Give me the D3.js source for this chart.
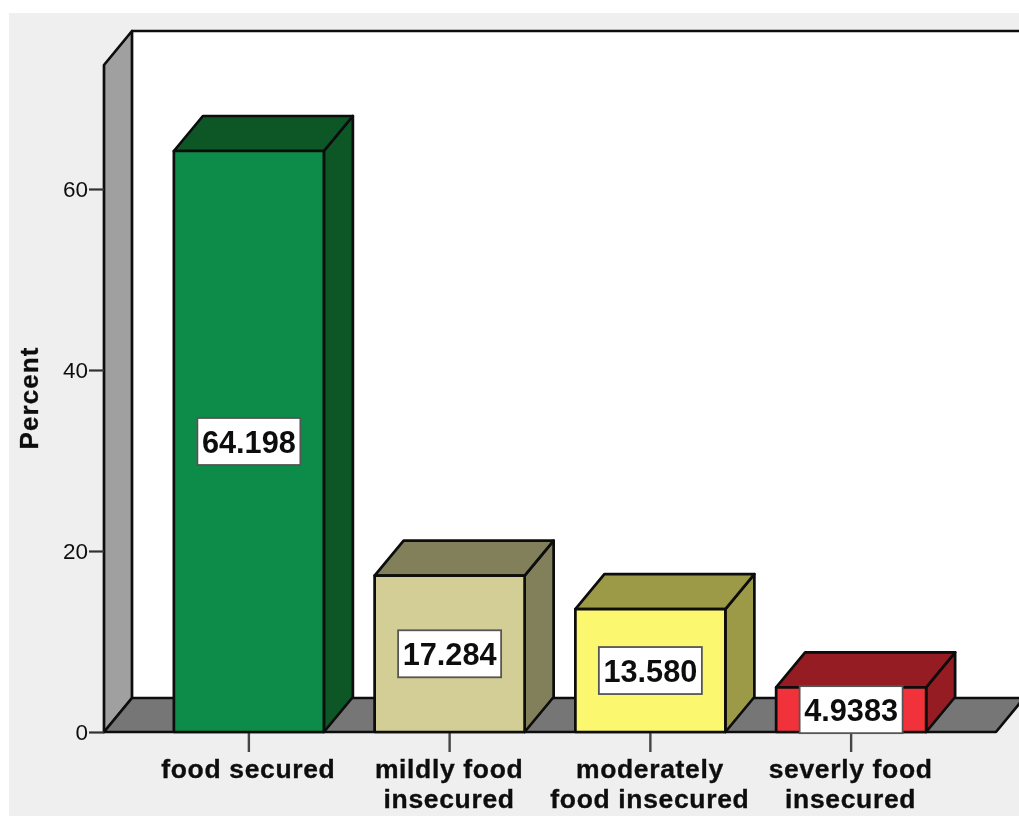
<!DOCTYPE html>
<html><head><meta charset="utf-8">
<script src="https://cdnjs.cloudflare.com/ajax/libs/d3/7.8.5/d3.min.js"></script>
<style>html,body{margin:0;padding:0;background:#fff}svg{display:block}text{font-family:"Liberation Sans",Arial,sans-serif;fill:#111}</style>
</head><body><svg id="c" width="1019" height="818"></svg>
<script>
const categories=["food secured","mildly food insecured","moderately food insecured","severly food insecured"];
const categoryLines=[["food secured"],["mildly food","insecured"],["moderately","food insecured"],["severly food","insecured"]];
const values=[64.198,17.284,13.580,4.9383];
const valueLabels=["64.198","17.284","13.580","4.9383"];
const yTicks=[0,20,40,60];
const frontColors=["#108c48","#d3ce96","#fbf76e","#f2333a"];
const sideColors=["#0a5628","#82805a","#9c9a47","#941e22"];

const svg=d3.select("#c");
const defs=svg.append("defs");
defs.append("filter").attr("id","soft").attr("x","-2%").attr("y","-2%").attr("width","104%").attr("height","104%")
  .append("feGaussianBlur").attr("stdDeviation",0.45);
const root=svg.append("g").attr("filter","url(#soft)");
const dx=28,dy=-34,barDx=29,barDy=-35,plotL=104,plotR=996,y0=732,plotT=65,stroke="#0c0c0c";
const y=d3.scaleLinear().domain([0,73.7]).range([y0,plotT]);
const x=d3.scaleBand().domain(categories).range([148.5,951.5]).paddingInner(0.2528).paddingOuter(0.1264);
const poly=(pts,fill,sw=2.7)=>root.append("polygon").attr("points",pts.map(p=>p.join(",")).join(" "))
  .attr("fill",fill).attr("stroke",stroke).attr("stroke-width",sw).attr("stroke-linejoin","round");

root.append("rect").attr("x",9).attr("y",13).attr("width",1010).attr("height",803).attr("fill","#efefef");
root.append("rect").attr("x",plotL+dx).attr("y",plotT+dy).attr("width",1019-plotL-dx).attr("height",y0-plotT).attr("fill","#fff");
root.append("line").attr("x1",plotL+dx).attr("x2",1019).attr("y1",plotT+dy).attr("y2",plotT+dy).attr("stroke",stroke).attr("stroke-width",2.7);
poly([[plotL,plotT],[plotL+dx,plotT+dy],[plotL+dx,y0+dy],[plotL,y0]],"#a0a0a0");
poly([[plotL,y0],[plotR,y0],[plotR+dx,y0+dy],[plotL+dx,y0+dy]],"#767676");

// axes
const yAxis=d3.axisLeft(y).tickValues(yTicks).tickSize(15).tickPadding(1).tickSizeOuter(0);
const ga=root.append("g").attr("transform",`translate(${plotL},0)`).call(yAxis);
ga.select(".domain").remove();
ga.selectAll("line").attr("stroke","#333").attr("stroke-width",2.2);
ga.selectAll("text").attr("font-size",22.5).attr("font-family","Liberation Sans").attr("fill","#222");
root.append("text").attr("transform","translate(38,398) rotate(-90)").attr("text-anchor","middle")
  .attr("font-size",26).attr("font-weight","bold").attr("letter-spacing",1.1).attr("stroke","#111").attr("stroke-width",0.3).text("Percent");

const xAxis=d3.axisBottom(x).tickSize(20).tickFormat("").tickSizeOuter(0);
const gx=root.append("g").attr("transform",`translate(0,${y0})`).call(xAxis);
gx.select(".domain").remove();
gx.selectAll("line").attr("stroke","#444").attr("stroke-width",2.4);

// bars
categories.forEach((c,i)=>{
  const a=x(c),b=a+x.bandwidth(),t=y(values[i]);
  poly([[b,t],[b+barDx,t+barDy],[b+barDx,y0+barDy],[b,y0]],sideColors[i]);
  poly([[a,t],[a+barDx,t+barDy],[b+barDx,t+barDy],[b,t]],sideColors[i]);
  poly([[a,t],[b,t],[b,y0],[a,y0]],frontColors[i]);
  const cx=(a+b)/2,cy=(t+y0)/2;
  root.append("rect").attr("x",cx-51.5).attr("y",cy-23.5).attr("width",103).attr("height",47)
    .attr("fill","#fff").attr("stroke","#555").attr("stroke-width",1.8);
  root.append("text").attr("x",cx).attr("y",cy+11.5).attr("text-anchor","middle")
    .attr("font-size",32).attr("font-weight","bold").attr("textLength",94).attr("lengthAdjust","spacingAndGlyphs").text(valueLabels[i]);
  categoryLines[i].forEach((l,j)=>{
    root.append("text").attr("x",cx-0.5).attr("y",778+j*30).attr("text-anchor","middle")
      .attr("font-size",26.5).attr("font-weight","bold").attr("letter-spacing",0.65).attr("stroke","#111").attr("stroke-width",0.35).text(l);
  });
});
</script></body></html>
